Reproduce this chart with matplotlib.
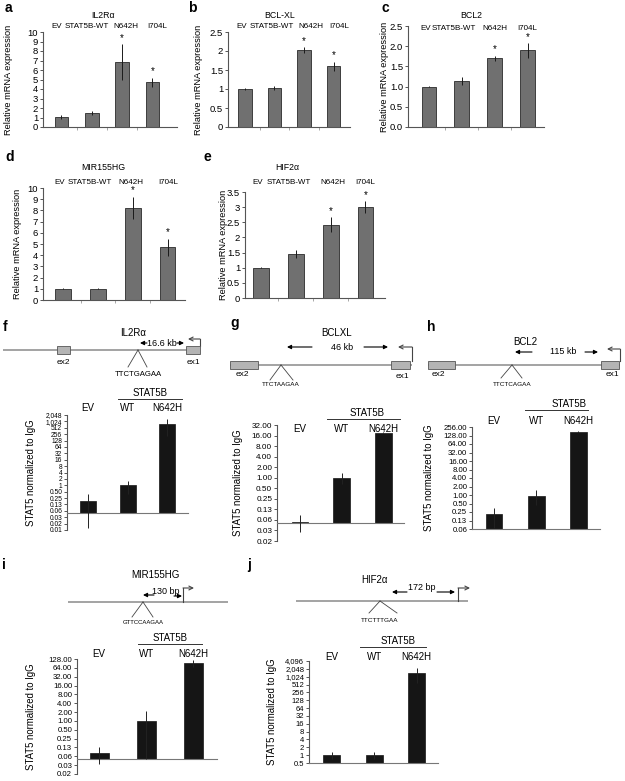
import numpy as np
import matplotlib
matplotlib.use('Agg')
import matplotlib.pyplot as plt
from matplotlib.transforms import blended_transform_factory
from matplotlib.ticker import NullLocator, FixedLocator, FixedFormatter
from matplotlib.patches import Rectangle
from matplotlib import font_manager

plt.rcParams['font.family'] = ['Liberation Sans', 'DejaVu Sans']
_names = {f.name for f in font_manager.fontManager.ttflist}
NARROW = ['Liberation Sans Narrow', 'Liberation Sans'] if 'Liberation Sans Narrow' in _names \
    else ['Liberation Sans']

# ---------------- data ----------------
cats = ['EV', 'STAT5B-WT', 'N642H', 'I704L']
sig = [False, False, True, True]

il2ra_vals = [1.05, 1.5, 6.8, 4.7]
il2ra_err = [0.2, 0.2, 1.9, 0.5]
bclxl_vals = [1.0, 1.03, 2.02, 1.6]
bclxl_err = [0.03, 0.06, 0.08, 0.12]
bcl2_vals = [1.0, 1.13, 1.7, 1.9]
bcl2_err = [0.02, 0.1, 0.06, 0.18]
mir_vals = [1.0, 1.0, 8.2, 4.7]
mir_err = [0.03, 0.05, 1.0, 0.75]
hif_vals = [1.0, 1.45, 2.42, 3.0]
hif_err = [0.02, 0.13, 0.25, 0.2]

chip_cats = ['EV', 'WT', 'N642H']
chip_il2ra = [0.19, 1.0, 750.0]
chip_il2ra_err = [0.18, 0.6, 550.0]
chip_bclxl = [0.056, 1.0, 19.0]
chip_bclxl_err = [0.028, 0.35, 0.6]
chip_bcl2 = [0.21, 0.95, 170.0]
chip_bcl2_err = [0.14, 0.5, 12.0]
chip_mir = [0.08, 1.0, 95.0]
chip_mir_err = [0.045, 1.2, 25.0]
chip_hif = [1.0, 1.0, 1400.0]
chip_hif_err = [0.3, 0.3, 800.0]

f_ticklabels = ['0.01', '0.02', '0.03', '0.06', '0.13', '0.25', '0.50', '1', '2', '4', '8', '16',
                '32', '64', '128', '256', '512', '1,024', '2,048']
g_ticklabels = ['0.02', '0.03', '0.06', '0.13', '0.25', '0.50', '1.00', '2.00', '4.00', '8.00',
                '16.00', '32.00']
h_ticklabels = ['0.06', '0.13', '0.25', '0.50', '1.00', '2.00', '4.00', '8.00', '16.00', '32.00',
                '64.00', '128.00', '256.00']
i_ticklabels = ['0.02', '0.03', '0.06', '0.13', '0.25', '0.50', '1.00', '2.00', '4.00', '8.00',
                '16.00', '32.00', '64.00', '128.00']
j_ticklabels = ['0.5', '1', '2', '4', '8', '16', '32', '64', '128', '256', '512', '1,024',
                '2,048', '4,096']

# ---------------- figure ----------------
W, H = 625, 781
fig = plt.figure(figsize=(W / 100, H / 100), dpi=100)
AXC = '#555555'


def axpix(x0, y0, x1, y1):
    return fig.add_axes([x0 / W, 1 - y1 / H, (x1 - x0) / W, (y1 - y0) / H])


def fy(py):
    return 1 - py / H


def letter(x, y, s):
    fig.text(x / W, fy(y), s, fontsize=10, fontweight='bold', ha='left', va='center')


def style_axes(ax):
    for s in ['top', 'right']:
        ax.spines[s].set_visible(False)
    for s in ['left', 'bottom']:
        ax.spines[s].set_color(AXC)
        ax.spines[s].set_linewidth(0.8)
    ax.tick_params(axis='y', direction='out', length=2.5, width=0.7, color=AXC, pad=1)


def expr_panel(rect, vals, errs, ymax, yticks, ytl, title, title_px, cat_px, cat_y, title_y,
               xlim, ylab_x):
    x0, y0, x1, y1 = rect
    ax = axpix(*rect)
    x = np.arange(len(cats))
    ax.bar(x, vals, width=0.45, color='#707070', edgecolor='#2a2a2a', linewidth=0.6, zorder=2)
    ax.errorbar(x, vals, yerr=errs, fmt='none', ecolor='#1a1a1a', elinewidth=0.7, capsize=0,
                zorder=3)
    ax.set_xlim(*xlim)
    ax.set_ylim(0, ymax)
    ax.set_yticks(yticks)
    ax.set_yticklabels(ytl, fontsize=6.8)
    ax.set_xticks([0.5, 1.5, 2.5])
    ax.set_xticklabels([])
    ax.tick_params(axis='x', direction='out', length=2, width=0.6, color='#999999')
    style_axes(ax)
    for xi, v, e, s in zip(x, vals, errs, sig):
        if s:
            ax.annotate('*', xy=(xi, v + e), xytext=(0, 1), textcoords='offset points',
                        ha='center', va='bottom', fontsize=7)
    for px, c in zip(cat_px, cats):
        fig.text(px / W, fy(cat_y), c, ha='center', va='center', fontsize=5.8, family=NARROW)
    fig.text(title_px / W, fy(title_y), title, ha='center', va='center', fontsize=6.3)
    ax.set_ylabel('Relative mRNA expression', fontsize=6.7)
    ax.yaxis.set_label_coords((ylab_x - x0) / (x1 - x0), 0.5)
    return ax


def chip_panel(rect, vals, errs, lo, hi, ytl, tick_fs, base, xlim, lab_y, ylab_x):
    x0, y0, x1, y1 = rect
    ax = axpix(*rect)
    x = np.arange(len(chip_cats))
    vals = np.array(vals)
    errs = np.array(errs)
    ax.set_yscale('log', base=2)
    ax.bar(x, vals - base, bottom=base, width=0.4, color='#151515', edgecolor='#151515',
           linewidth=0.5, zorder=2)
    lower = np.minimum(errs, vals * 0.95)
    ax.errorbar(x, vals, yerr=[lower, errs], fmt='none', ecolor='#222222', elinewidth=0.7,
                capsize=0, zorder=3)
    ax.set_xlim(*xlim)
    ax.set_ylim(2.0 ** lo, 2.0 ** hi)
    ax.yaxis.set_major_locator(FixedLocator([2.0 ** k for k in range(lo, hi + 1)]))
    ax.yaxis.set_major_formatter(FixedFormatter(ytl))
    ax.yaxis.set_minor_locator(NullLocator())
    ax.tick_params(axis='y', labelsize=tick_fs)
    ax.set_xticks([])
    style_axes(ax)
    ax.spines['bottom'].set_position(('data', base))
    ax.spines['bottom'].set_color('#777777')
    tr = blended_transform_factory(ax.transData, fig.transFigure)
    for xi, c in zip(x, chip_cats):
        ax.text(xi, fy(lab_y), c, transform=tr, ha='center', va='center', fontsize=7)
    ax.set_ylabel('STAT5 normalized to IgG', fontsize=6.9)
    ax.yaxis.set_label_coords((ylab_x - x0) / (x1 - x0), 0.5)
    return ax


# ---------------- expression panels a-e ----------------
lin10 = list(range(0, 11))
expr_panel((43, 32, 177, 127), il2ra_vals, il2ra_err, 10, lin10, [str(v) for v in lin10],
           'IL2R\u03b1', 103, [57, 87, 126, 157], 27, 15, (-0.61, 3.81), 13)
expr_panel((228, 32, 350, 127), bclxl_vals, bclxl_err, 2.5, [0, 0.5, 1, 1.5, 2, 2.5],
           ['0', '0.5', '1', '1.5', '2', '2.5'], 'BCL-XL', 280, [242, 272, 311, 339], 27, 15,
           (-0.57, 3.55), 203)
expr_panel((408, 26, 544, 127), bcl2_vals, bcl2_err, 2.5, [0, 0.5, 1, 1.5, 2, 2.5],
           ['0.0', '0.5', '1.0', '1.5', '2.0', '2.5'], 'BCL2', 471, [426, 454, 495, 527], 28, 15,
           (-0.64, 3.5), 389)
expr_panel((43, 188, 185, 300), mir_vals, mir_err, 10, lin10, [str(v) for v in lin10],
           'MIR155HG', 103, [60, 90, 131, 168], 182, 167, (-0.58, 3.5), 22)
expr_panel((245, 192, 385, 298), hif_vals, hif_err, 3.5, [0, 0.5, 1, 1.5, 2, 2.5, 3, 3.5],
           ['0', '0.5', '1', '1.5', '2', '2.5', '3', '3.5'], 'HIF2\u03b1', 287,
           [258, 289, 333, 365], 182, 168, (-0.46, 3.56), 228)

# ---------------- ChIP panels f-j ----------------
axf = chip_panel((67, 415, 188, 530), chip_il2ra, chip_il2ra_err, -7, 11, f_ticklabels, 4.8,
                 0.05, (-0.53, 2.52), 408, 36)
axg = chip_panel((277, 425, 404, 541), chip_bclxl, chip_bclxl_err, -6, 5, g_ticklabels, 5.9,
                 0.05, (-0.55, 2.5), 429, 243)
axh = chip_panel((472, 427, 600, 529), chip_bcl2, chip_bcl2_err, -4, 8, h_ticklabels, 5.6,
                 0.0625, (-0.52, 2.51), 421, 434)
axi = chip_panel((77, 659, 217, 774), chip_mir, chip_mir_err, -6, 7, i_ticklabels, 5.6,
                 0.05, (-0.47, 2.5), 654, 36)
axj = chip_panel((309, 661, 438, 763), chip_hif, chip_hif_err, -1, 12, j_ticklabels, 5.5,
                 0.5, (-0.53, 2.5), 657, 277)

# ---------------- schematic overlay ----------------
ov = fig.add_axes([0, 0, 1, 1])
ov.set_xlim(0, W)
ov.set_ylim(H, 0)
ov.axis('off')
GL = '#8a8a8a'


def gene_line(x0, x1, y):
    ov.plot([x0, x1], [y, y], color=GL, lw=1.1, solid_capstyle='butt')


def exon(x0, x1, y, label, lx, ly):
    ov.add_patch(Rectangle((x0, y - 4), x1 - x0, 8, facecolor='#b4b4b4', edgecolor='#555555',
                           lw=0.6, zorder=3))
    ov.text(lx, ly, label, ha='center', va='center', fontsize=6)


def harrow(xs, xe, y):
    ov.annotate('', xy=(xe, y), xytext=(xs, y),
                arrowprops=dict(arrowstyle='-|>', color='k', lw=0.8, mutation_scale=6,
                                shrinkA=0, shrinkB=0))


def promoter(x, ybase, ytop, xend):
    ov.plot([x, x], [ybase, ytop], color='#444444', lw=0.8)
    ov.annotate('', xy=(xend, ytop), xytext=(x, ytop),
                arrowprops=dict(arrowstyle='->', color='#444444', lw=0.8, mutation_scale=7,
                                shrinkA=0, shrinkB=0))


def site(x, y, dx1, dx2, dy, label, fs, ly):
    ov.plot([x, x - dx1], [y, y + dy], color='#444444', lw=0.6)
    ov.plot([x, x + dx2], [y, y + dy], color='#444444', lw=0.6)
    ov.text(x, ly, label, ha='center', va='center', fontsize=fs)


def stat5b(xc, y, x0, x1):
    ov.text(xc, y, 'STAT5B', ha='center', va='center', fontsize=7)
    ov.plot([x0, x1], [y + 6, y + 6], color='#333333', lw=0.7)


# f
gene_line(3, 200, 350)
exon(57, 70, 350, 'ex2', 63, 362)
exon(186, 200, 350, 'ex1', 193, 362)
ov.text(133, 333, 'IL2R\u03b1', ha='center', va='center', fontsize=7)
harrow(147, 140, 343)
ov.text(162, 343, '16.6 kb', ha='center', va='center', fontsize=6.5)
harrow(177, 184, 343)
promoter(200, 346, 339, 188)
site(138, 350, 10, 9, 17, 'TTCTGAGAA', 5.6, 374)
stat5b(150, 393, 118, 182)

# g
gene_line(230, 412, 365)
exon(230, 258, 365, 'ex2', 242, 374)
exon(391, 410, 365, 'ex1', 402, 376)
ov.text(337, 333, 'BCLXL', ha='center', va='center', fontsize=7)
ov.text(342, 347, '46 kb', ha='center', va='center', fontsize=6.5)
harrow(312, 287, 347)
harrow(364, 388, 347)
promoter(412, 361, 347, 398)
site(281, 365, 11, 12, 15, 'TTCTAAGAA', 4.6, 384)
stat5b(367, 413, 327, 400)

# h
gene_line(428, 620, 365)
exon(428, 455, 365, 'ex2', 438, 374)
exon(601, 619, 365, 'ex1', 612, 374)
ov.text(525, 342, 'BCL2', ha='center', va='center', fontsize=7)
ov.text(563, 352, '115 kb', ha='center', va='center', fontsize=6.5)
harrow(532, 515, 352)
harrow(585, 598, 352)
promoter(620, 361, 349, 607)
site(512, 365, 11, 10, 13, 'TTCTCAGAA', 4.6, 384)
stat5b(569, 404, 525, 588)

# i
gene_line(68, 228, 602)
ov.text(155, 575, 'MIR155HG', ha='center', va='center', fontsize=7)
ov.text(166, 592, '130 bp', ha='center', va='center', fontsize=6.5)
harrow(154, 143, 595)
harrow(174, 182, 596)
promoter(183, 602, 588, 194)
site(143, 602, 11, 10, 15, 'GTTCCAAGAA', 4.3, 623)
stat5b(170, 638, 138, 202)

# j
gene_line(296, 468, 601)
ov.text(375, 580, 'HIF2\u03b1', ha='center', va='center', fontsize=7)
ov.text(422, 587, '172 bp', ha='center', va='center', fontsize=6.5)
harrow(407, 392, 592)
harrow(437, 455, 592)
promoter(458, 601, 588, 470)
site(380, 601, 11, 17, 12, 'TTCTTTGAA', 4.6, 621)
stat5b(398, 641, 360, 426)

# panel letters
letter(5, 8, 'a')
letter(188, 8, 'b')
letter(382, 8, 'c')
letter(5, 157, 'd')
letter(203, 157, 'e')
letter(3, 327, 'f')
letter(230, 323, 'g')
letter(427, 327, 'h')
letter(2, 565, 'i')
letter(247, 565, 'j')

fig.savefig('out.png', dpi=100)
